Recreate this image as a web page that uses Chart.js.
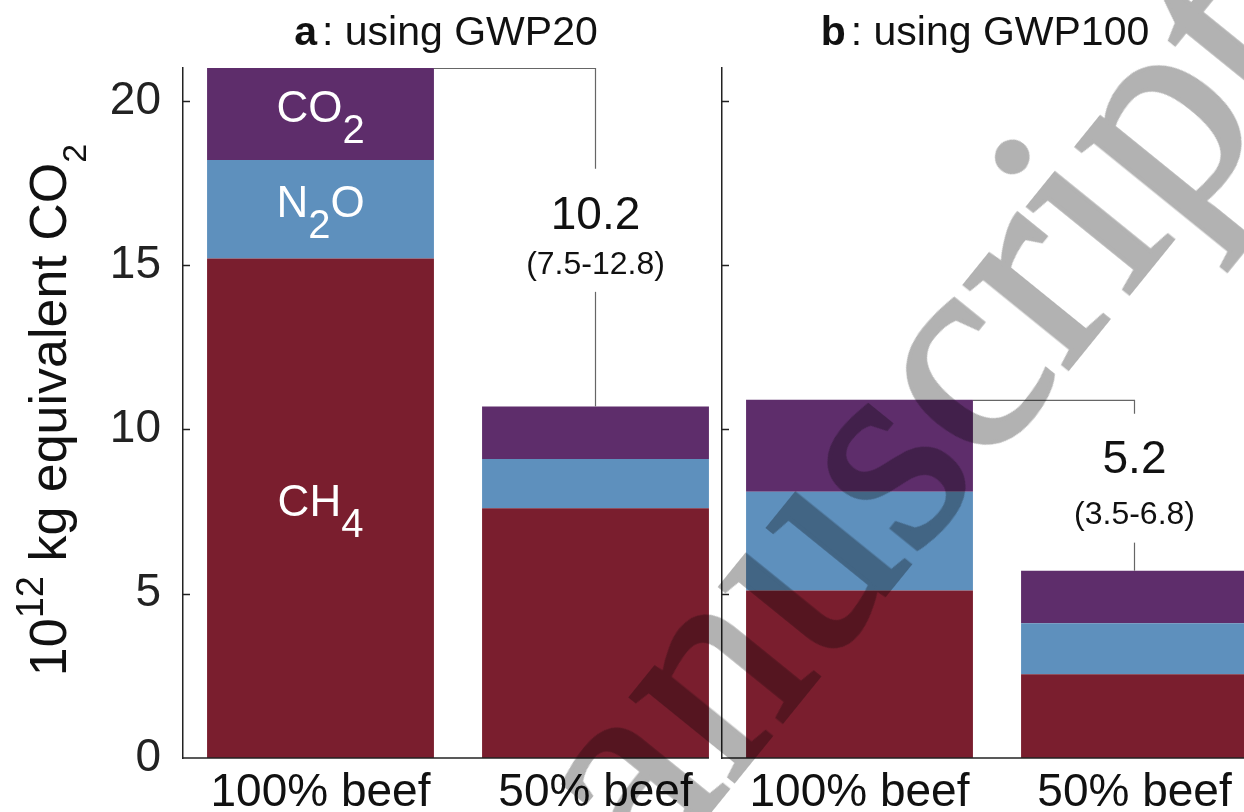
<!DOCTYPE html>
<html>
<head>
<meta charset="utf-8">
<script src="https://cdn.jsdelivr.net/npm/chart.js@4.4.1/dist/chart.umd.min.js"></script>
<style>
    html, body { margin: 0; padding: 0; background: #fff; }
    #page { position: relative; width: 1244px; height: 812px; overflow: hidden; background: #fff; }
    #panelA { position: absolute; left: 0; top: 0; }
    #panelB { position: absolute; left: 700px; top: 0; }
    #wm { position: absolute; left: 508px; top: 1062px; width: 0; height: 0; transform-origin: 0 0; transform: rotate(-51deg); mix-blend-mode: multiply; pointer-events: none; }
    #wm span { position: absolute; left: 0; top: -243px; font: 290px/1 "Liberation Serif", "Times New Roman", serif; color: #b2b2b2; -webkit-text-stroke: 4px #b2b2b2; white-space: nowrap; }
</style>
</head>
<body>
<div id="page">
    <canvas id="panelA" width="740" height="812"></canvas>
    <canvas id="panelB" width="580" height="812"></canvas>
    <div id="wm"><span>manuscript</span></div>
</div>
<script>
const categories = ['100% beef', '50% beef'];
const gwp20CH4 = [15.2, 7.6];
const gwp20N2O = [3.0, 1.5];
const gwp20CO2 = [2.8, 1.6];
const gwp100CH4 = [5.1, 2.55];
const gwp100N2O = [3.0, 1.55];
const gwp100CO2 = [2.8, 1.6];
const yTicks = [0, 5, 10, 15, 20];
const saving20 = ['10.2', '(7.5-12.8)'];
const saving100 = ['5.2', '(3.5-6.8)'];

const FONT = '"Liberation Sans", Arial, Helvetica, sans-serif';
const colCH4 = '#7a1e2e';
const colN2O = '#5e90bd';
const colCO2 = '#5e2d6b';

// gas labels drawn inside the first bar of panel a: [text, isSubscript]
const gasLabels = [
    [['CH', false], ['4', true]],
    [['N', false], ['2', true], ['O', false]],
    [['CO', false], ['2', true]],
];

function line(ctx, x1, y1, x2, y2) {
    ctx.beginPath();
    ctx.moveTo(x1, y1);
    ctx.lineTo(x2, y2);
    ctx.stroke();
}

function drawPieces(ctx, pieces, cx, baseY, mainSize, subSize, subDrop) {
    const widths = pieces.map(([t, sub]) => {
        ctx.font = `${sub ? subSize : mainSize}px ${FONT}`;
        return ctx.measureText(t).width;
    });
    let x = cx - widths.reduce((a, b) => a + b, 0) / 2;
    pieces.forEach(([t, sub], i) => {
        ctx.font = `${sub ? subSize : mainSize}px ${FONT}`;
        ctx.fillText(t, x, baseY + (sub ? subDrop : 0));
        x += widths[i];
    });
}

function decor(cfg) {
    return {
        id: 'decor',
        afterDraw(chart) {
            const ctx = chart.ctx;
            const area = chart.chartArea;
            const yScale = chart.scales.y;
            const tops = chart.getDatasetMeta(2).data;
            const first = tops[0];
            const last = tops[tops.length - 1];
            const rightEdge = last.x + last.width / 2;

            ctx.save();
            // bottom axis, only as far as the last bar
            ctx.strokeStyle = '#222';
            ctx.lineWidth = 1.5;
            line(ctx, area.left, area.bottom, rightEdge, area.bottom);
            // inward tick marks
            yTicks.forEach((v) => {
                if (v === 0) return;
                const py = Math.round(yScale.getPixelForValue(v)) + 0.5;
                line(ctx, area.left, py, area.left + 7, py);
            });

            // panel title, bold letter + plain text
            ctx.fillStyle = '#111';
            ctx.textBaseline = 'alphabetic';
            ctx.textAlign = 'left';
            ctx.font = `bold 41px ${FONT}`;
            const wBold = ctx.measureText(cfg.letter).width;
            ctx.font = `41px ${FONT}`;
            const wRest = ctx.measureText(cfg.title).width;
            let tx = (area.left + rightEdge) / 2 - (wBold + 5 + wRest) / 2;
            ctx.font = `bold 41px ${FONT}`;
            ctx.fillText(cfg.letter, tx, 45);
            ctx.font = `41px ${FONT}`;
            ctx.fillText(cfg.title, tx + wBold + 5, 45);

            // difference bracket
            const bx = last.x;
            const numY = yScale.getPixelForValue(cfg.labelValue);
            const rangeY = numY + cfg.rangeOffset;
            ctx.strokeStyle = '#666';
            ctx.lineWidth = 1.2;
            ctx.beginPath();
            ctx.moveTo(first.x + first.width / 2, first.y + 0.5);
            ctx.lineTo(bx, first.y + 0.5);
            ctx.lineTo(bx, numY - 47);
            ctx.stroke();
            line(ctx, bx, rangeY + 27, bx, last.y);
            ctx.fillStyle = '#111';
            ctx.textAlign = 'center';
            ctx.textBaseline = 'middle';
            ctx.font = `46px ${FONT}`;
            ctx.fillText(cfg.saving[0], bx, numY);
            ctx.font = `32px ${FONT}`;
            ctx.fillText(cfg.saving[1], bx, rangeY);

            if (cfg.gasLabels) {
                ctx.fillStyle = '#fff';
                ctx.textAlign = 'left';
                ctx.textBaseline = 'alphabetic';
                gasLabels.forEach((pieces, i) => {
                    const el = chart.getDatasetMeta(i).data[0];
                    const mid = (el.y + el.base) / 2;
                    drawPieces(ctx, pieces, el.x, mid + 8, 44, 40, 21);
                });
            }

            if (cfg.yTitle) {
                ctx.fillStyle = '#111';
                ctx.textAlign = 'left';
                ctx.textBaseline = 'alphabetic';
                ctx.translate(66, 410);
                ctx.rotate(-Math.PI / 2);
                const parts = [['10', 52, 0], ['12', 38, -23], [' kg equivalent CO', 52, 0], ['2', 34, 20]];
                const ws = parts.map(([t, s]) => { ctx.font = `${s}px ${FONT}`; return ctx.measureText(t).width; });
                let px = -ws.reduce((a, b) => a + b, 0) / 2;
                parts.forEach(([t, s, dy], i) => {
                    ctx.font = `${s}px ${FONT}`;
                    ctx.fillText(t, px, dy);
                    px += ws[i];
                });
            }
            ctx.restore();
        },
    };
}

function makePanel(id, ch4, n2o, co2, cfg) {
    return new Chart(document.getElementById(id), {
        type: 'bar',
        data: {
            labels: categories,
            datasets: [
                { label: 'CH4', data: ch4, backgroundColor: colCH4 },
                { label: 'N2O', data: n2o, backgroundColor: colN2O },
                { label: 'CO2', data: co2, backgroundColor: colCO2 },
            ],
        },
        options: {
            responsive: false,
            animation: false,
            layout: { padding: { left: 0, right: cfg.padRight, top: 68, bottom: 0 } },
            datasets: { bar: { barPercentage: 0.825, categoryPercentage: 1, borderWidth: 0 } },
            scales: {
                x: {
                    stacked: true,
                    offset: true,
                    grid: { display: false, drawTicks: false },
                    border: { display: false },
                    ticks: { color: '#111', font: { family: FONT, size: 46 }, padding: 8, maxRotation: 0 },
                    afterFit(s) { s.height = 54; },
                },
                y: {
                    stacked: true,
                    min: 0,
                    max: 21,
                    afterBuildTicks(s) { s.ticks = yTicks.map((v) => ({ value: v })); },
                    grid: { display: false, drawTicks: false },
                    border: { display: true, color: '#222', width: 1.5 },
                    ticks: { display: cfg.tickLabels, color: '#222', font: { family: FONT, size: 46 }, padding: 22 },
                    afterFit(s) { s.width = cfg.axisLeft; },
                },
            },
            plugins: { legend: { display: false }, tooltip: { enabled: false } },
        },
        plugins: [decor(cfg)],
    });
}

makePanel('panelA', gwp20CH4, gwp20N2O, gwp20CO2, {
    padRight: 7, axisLeft: 183, tickLabels: true, letter: 'a', title: ': using GWP20',
    saving: saving20, labelValue: 16.5, rangeOffset: 49, gasLabels: true, yTitle: true,
});
makePanel('panelB', gwp100CH4, gwp100N2O, gwp100CO2, {
    padRight: 8, axisLeft: 22, tickLabels: false, letter: 'b', title: ': using GWP100',
    saving: saving100, labelValue: 9.05, rangeOffset: 55, gasLabels: false, yTitle: false,
});
</script>
</body>
</html>
